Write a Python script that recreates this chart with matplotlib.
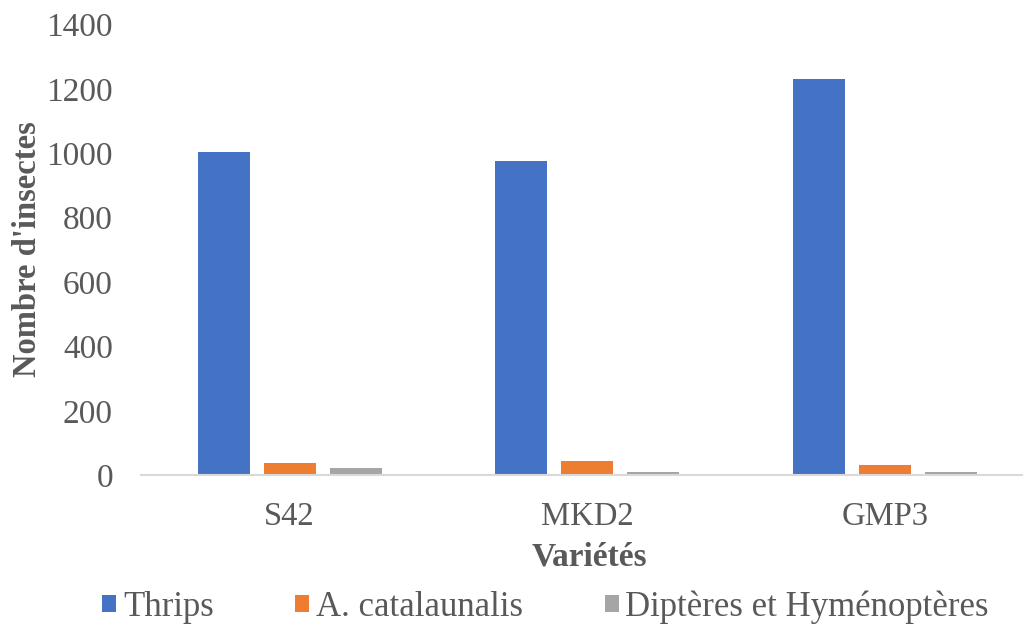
import numpy as np
import matplotlib
matplotlib.use('Agg')
import matplotlib.pyplot as plt
from matplotlib.patches import Patch

# data
varieties = ['S42', 'MKD2', 'GMP3']
thrips = [1003, 975, 1231]
catalaunalis = [39, 45, 31]
dipteres = [22, 10, 9]
series_names = ['Thrips', 'A. catalaunalis', 'Diptères et Hyménoptères']
colors = ['#4472C4', '#ED7D31', '#A5A5A5']

plt.rcParams['font.family'] = ['Liberation Serif', 'DejaVu Serif']
text_col = '#595959'

fig = plt.figure(figsize=(10.23, 6.25), dpi=100)
# plot area runs past the right edge, as in the reference
ax = fig.add_axes([140.7 / 1023, 1 - 475.3 / 625, 893.4 / 1023, (475.3 - 24.4) / 625])

x = np.arange(len(varieties))
width = 0.1746
offset = 0.2216
for i, (vals, name) in enumerate(zip([thrips, catalaunalis, dipteres], series_names)):
    ax.bar(x + (i - 1) * offset, vals, width, color=colors[i], label=name, zorder=2)

ax.set_xlim(-0.5, 2.5)
ax.set_ylim(0, 1400)
ax.set_yticks(range(0, 1401, 200))
ax.set_xticks(x)
ax.set_xticklabels(varieties)
ax.tick_params(axis='both', length=0, colors=text_col)
ax.tick_params(axis='y', pad=20, labelsize=24)
ax.tick_params(axis='x', pad=19, labelsize=23.5)

for s in ['top', 'right', 'left']:
    ax.spines[s].set_visible(False)
ax.spines['bottom'].set_color('#D9D9D9')
ax.spines['bottom'].set_linewidth(1.5)

fig.text(28 / 1023, 1 - 249 / 625, "Nombre d'insectes", fontsize=23.5, fontweight='bold',
         color=text_col, ha='center', va='center', rotation=90)
fig.text(589 / 1023, 1 - 557 / 625, 'Variétés', fontsize=24, fontweight='bold',
         color=text_col, ha='center', va='center')

handles = [Patch(facecolor=c) for c in colors]
fig.legend(handles, series_names, loc='center left', bbox_to_anchor=(102 / 1023, 1 - 607 / 625),
           ncol=3, frameon=False, fontsize=25, handlelength=0.4, handleheight=0.4,
           handletextpad=0.2, columnspacing=2.35, labelcolor=text_col, borderaxespad=0,
           borderpad=0)

fig.savefig('out.png', dpi=100)
